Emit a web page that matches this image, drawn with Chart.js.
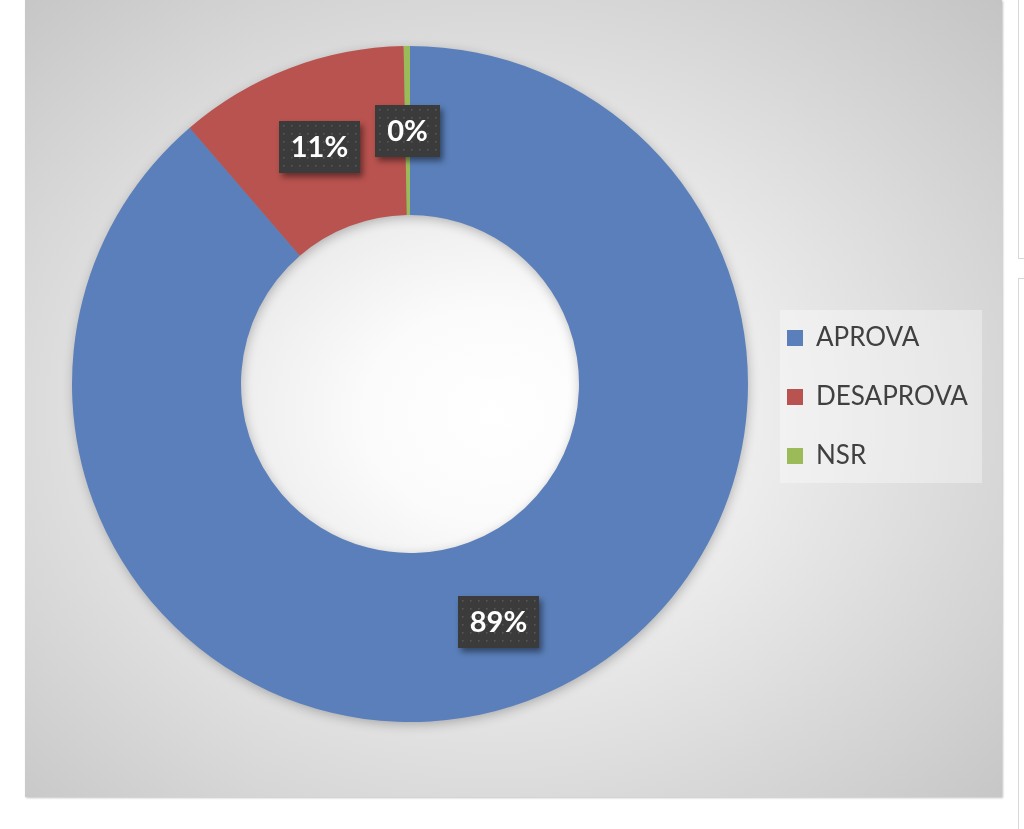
<!DOCTYPE html>
<html>
<head>
<meta charset="utf-8">
<script src="https://cdn.jsdelivr.net/npm/chart.js@4"></script>
<style>
  html, body { margin: 0; padding: 0; background: #ffffff; width: 1024px; height: 829px; overflow: hidden; }
  #panel {
    position: absolute; left: 25px; top: 0; width: 977px; height: 797px;
    background: radial-gradient(ellipse farthest-corner at 48% 52%, #ffffff 0%, #fbfbfb 18%, #eeeeee 35%, #dedede 60%, #c4c4c4 100%);
    box-shadow: 1px 1px 2px rgba(0,0,0,0.25);
  }
  #panel canvas { position: absolute; left: 0; top: 0; }
  .side1 { position: absolute; left: 1018px; top: -2px; width: 30px; height: 260px; border-left: 1px solid #d8d8d8; border-bottom: 1px solid #d8d8d8; }
  .side2 { position: absolute; left: 1018px; top: 278px; width: 30px; height: 600px; border-left: 1px solid #d8d8d8; border-top: 1px solid #d8d8d8; }
</style>
</head>
<body>
<div class="side1"></div>
<div class="side2"></div>
<div id="panel"><canvas id="c" width="977" height="797"></canvas></div>
<script>
// ---- data ----
const categories = ['APROVA', 'DESAPROVA', 'NSR'];
const values = [88.7, 11.0, 0.3];
const colors = ['#5a7fba', '#b9534f', '#9bbb59'];

// ---- layout helpers ----
const legendFontSize = 26;
const legendFont = legendFontSize + 'px Lato';
const mctx = document.createElement('canvas').getContext('2d');
mctx.font = legendFont;
const maxTextW = Math.max(...categories.map(t => mctx.measureText(t).width));
const legendPad = 33, legendBox = 16;
const legendWidth = legendPad + legendBox + legendFontSize / 2 + maxTextW + 10;
const padLeft = 41, areaW = 688;
const padRight = Math.max(0, 977 - padLeft - areaW - legendWidth);

const shadowRing = {
  id: 'shadowRing',
  beforeDatasetsDraw(chart) {
    const arc = chart.getDatasetMeta(0).data[0];
    if (!arc) return;
    const { x, y, innerRadius, outerRadius } = arc.getProps(['x', 'y', 'innerRadius', 'outerRadius'], true);
    const ctx = chart.ctx;
    ctx.save();
    ctx.shadowColor = 'rgba(0,0,0,0.28)';
    ctx.shadowBlur = 12;
    ctx.shadowOffsetX = 1;
    ctx.shadowOffsetY = 3;
    ctx.fillStyle = '#8a8a8a';
    ctx.beginPath();
    ctx.arc(x, y, outerRadius - 1, 0, Math.PI * 2);
    ctx.arc(x, y, innerRadius + 1, 0, Math.PI * 2, true);
    ctx.fill();
    ctx.restore();
  }
};

const legendShift = {
  id: 'legendShift',
  afterLayout(chart) {
    const lg = chart.legend;
    if (lg) { lg.top += 13; lg.bottom += 13; }
  },
  beforeDraw(chart) {
    const lg = chart.legend;
    if (!lg) return;
    const ctx = chart.ctx;
    const cy = (lg.top + lg.bottom) / 2;
    const x0 = lg.left + legendPad - 7;
    ctx.save();
    ctx.fillStyle = 'rgba(255,255,255,0.35)';
    ctx.fillRect(x0, cy - 87, 202, 173);
    ctx.restore();
  }
};

const pctLabels = {
  id: 'pctLabels',
  afterDatasetsDraw(chart) {
    const ctx = chart.ctx;
    const data = chart.data.datasets[0].data;
    const total = data.reduce((a, b) => a + b, 0);
    chart.getDatasetMeta(0).data.forEach((arc, i) => {
      const p = arc.tooltipPosition();
      const txt = Math.round(data[i] / total * 100) + '%';
      ctx.save();
      ctx.font = 'bold 29px Lato';
      const tw = ctx.measureText(txt).width;
      const w = Math.round(tw + 24), h = 52;
      const bx = Math.round(p.x - w / 2), by = Math.round(p.y - h / 2);
      ctx.shadowColor = 'rgba(0,0,0,0.45)';
      ctx.shadowBlur = 6;
      ctx.shadowOffsetX = 3;
      ctx.shadowOffsetY = 4;
      ctx.fillStyle = '#3b3b3b';
      ctx.fillRect(bx, by, w, h);
      ctx.shadowColor = 'transparent';
      ctx.fillStyle = '#565656';
      for (let yy = by + 4; yy < by + h - 1; yy += 8) {
        for (let xx = bx + 4; xx < bx + w - 1; xx += 8) {
          ctx.fillRect(xx, yy, 1.6, 1.6);
        }
      }
      ctx.fillStyle = '#ffffff';
      ctx.textAlign = 'center';
      ctx.textBaseline = 'middle';
      ctx.fillText(txt, bx + w / 2, by + h / 2 + 1);
      ctx.restore();
    });
  }
};

new Chart(document.getElementById('c'), {
  type: 'doughnut',
  data: {
    labels: categories,
    datasets: [{
      data: values,
      backgroundColor: colors,
      borderWidth: 0,
      hoverOffset: 0
    }]
  },
  options: {
    responsive: false,
    animation: false,
    cutout: '50%',
    layout: { padding: { left: padLeft, top: 46, bottom: 75, right: padRight } },
    plugins: {
      tooltip: { enabled: false },
      legend: {
        position: 'right',
        labels: {
          boxWidth: legendBox,
          boxHeight: legendBox,
          padding: legendPad,
          color: '#404040',
          font: { family: 'Lato', size: legendFontSize }
        }
      }
    }
  },
  plugins: [shadowRing, legendShift, pctLabels]
});
</script>
</body>
</html>
